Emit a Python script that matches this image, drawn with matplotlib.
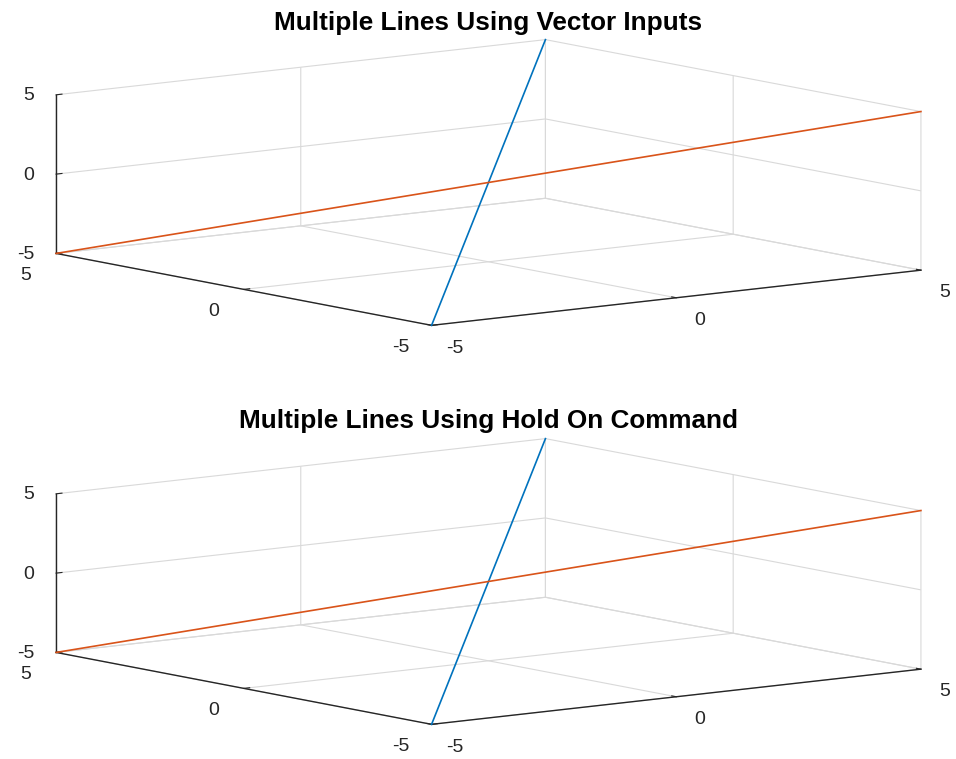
import matplotlib
matplotlib.use("Agg")
import matplotlib.pyplot as plt
from matplotlib.transforms import ScaledTranslation

# line endpoints (x, y, z)
blue_x = [-5, 5]
blue_y = [-5, 5]
blue_z = [-5, 5]
orange_x = [-5, 5]
orange_y = [5, -5]
orange_z = [-5, 5]

ticks = [-5, 0, 5]
titles = ["Multiple Lines Using Vector Inputs", "Multiple Lines Using Hold On Command"]

plt.rcParams["font.family"] = ["Liberation Sans", "DejaVu Sans"]
plt.rcParams["axes.unicode_minus"] = False
plt.rcParams["grid.color"] = "#d9d9d9"
plt.rcParams["grid.linewidth"] = 0.8

W, H = 956, 759
fig = plt.figure(figsize=(W / 100, H / 100), dpi=100)

S = 861  # side of square 3d axes, px
centers = [(488.5, 182.5), (488.5, 581.5)]
title_y = [23, 421]

for (cx, cy), title, ty in zip(centers, titles, title_y):
    left = cx - 0.5135 * S
    bottom = H - (cy + 0.5135 * S)
    ax = fig.add_axes([left / W, bottom / H, S / W, S / H], projection="3d")
    ax.set_proj_type("ortho")
    ax.view_init(elev=8.45, azim=-127.5)
    ax.set_box_aspect((1, 1, 0.26))
    ax.patch.set_alpha(0)

    # square 3d axes is narrower than the box, so don't clip the lines
    ax.plot(blue_x, blue_y, blue_z, color="#0072BD", lw=1.2, clip_on=False)
    ax.plot(orange_x, orange_y, orange_z, color="#D95319", lw=1.2, clip_on=False)

    ax.set_xlim(-5, 5)
    ax.set_ylim(-5, 5)
    ax.set_zlim(-5, 5)
    ax.set_xticks(ticks)
    ax.set_yticks(ticks)
    ax.set_zticks(ticks)

    for axis in (ax.xaxis, ax.yaxis, ax.zaxis):
        axis.set_pane_color((1, 1, 1, 0))
        axis.pane.set_edgecolor("#d9d9d9")
        axis.line.set_color("#262626")
        axis.line.set_linewidth(1.0)
        axis._axinfo["tick"]["inward_factor"] = 0.0
        axis._axinfo["tick"]["outward_factor"] = 0.15
        axis.set_tick_params(labelsize=14, colors="#262626")
    ax.xaxis.set_tick_params(pad=12)
    ax.yaxis.set_tick_params(pad=12)

    # z labels: level with their ticks, left of the axis like matlab does
    ax.zaxis.set_tick_params(labelleft=False)
    shift = ax.transData + ScaledTranslation(-0.22, -0.01, fig.dpi_scale_trans)
    for z in ticks:
        ax.text(-5, 5, z, str(z), ha="right", va="center", fontsize=14,
                color="#262626", transform=shift, clip_on=False)

    fig.text(cx / W, 1 - ty / H, title, ha="center", va="center",
             fontsize=18.8, fontweight="bold", color="black")

fig.savefig("out.png", dpi=100)
